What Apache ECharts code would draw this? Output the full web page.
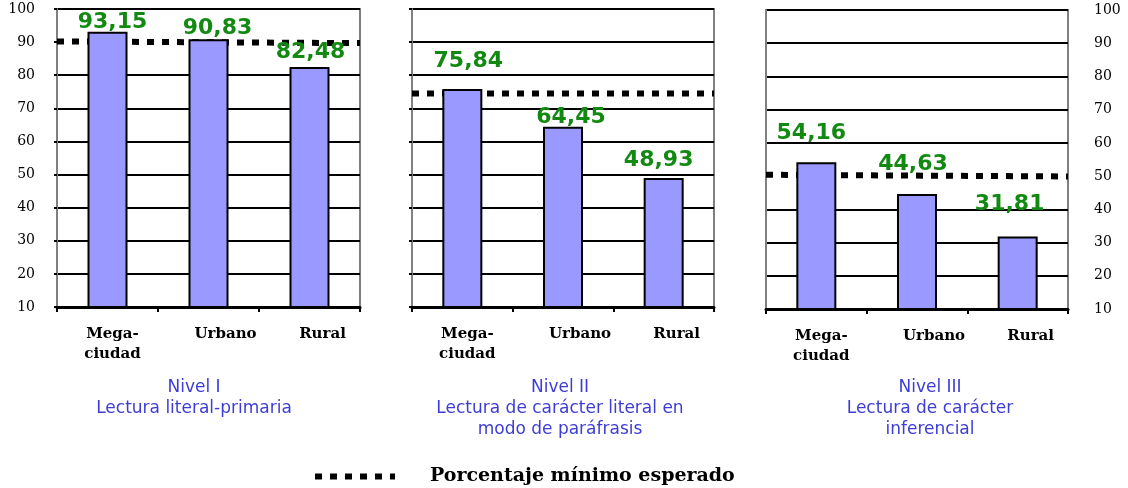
<!DOCTYPE html>
<html>
<head>
<meta charset="utf-8">
<script src="https://cdn.jsdelivr.net/npm/echarts@6/dist/echarts.min.js"></script>
<style>
  html, body { margin: 0; padding: 0; background: #fff; }
  #chart { width: 1128px; height: 488px; }
</style>
</head>
<body>
<div id="chart"></div>
<script>
// data
const categories = ['Mega-\nciudad', 'Urbano', 'Rural'];
const nivel1 = [93.15, 90.83, 82.48];
const nivel2 = [75.84, 64.45, 48.93];
const nivel3 = [54.16, 44.63, 31.81];
// "Porcentaje mínimo esperado" line, value at left / right end of each panel
const minimo1 = [90.2, 89.7];
const minimo2 = [74.5, 74.5];
const minimo3 = [50.4, 49.9];
const yTicks = [10, 20, 30, 40, 50, 60, 70, 80, 90, 100];
const panelTitles = [
    'Nivel I\nLectura literal-primaria',
    'Nivel II\nLectura de carácter literal en\nmodo de paráfrasis',
    'Nivel III\nLectura de carácter\ninferencial'
];
const legendName = 'Porcentaje mínimo esperado';

// layout / style tweaks (not data)
const grids = [
    { left: 57, top: 9, width: 303, height: 298 },
    { left: 412, top: 9, width: 302, height: 298 },
    { left: 766, top: 10, width: 302, height: 299 }
];
const titleCenters = [194, 560, 930];
const catShift = [5, 17, 13];
const labelShift = [
    [[5, 2], [9, 0], [1, -4]],
    [[6, -17], [8, 2], [-5, -7]],
    [[-5, -18], [-4, -19], [-8, -21]]
];
// gridline hidden under the dotted line (index into yTicks)
const hiddenGrid = [8, -1, 4];
const dotStyle = { color: '#000', width: 6, type: [7, 8], cap: 'butt' };

const chart = echarts.init(document.getElementById('chart'));

const bars = [nivel1, nivel2, nivel3];
const minimos = [minimo1, minimo2, minimo3];

let xAxis = [], yAxis = [], series = [];

grids.forEach((g, i) => {
    const rich = {};
    catShift.forEach((s, k) => {
        rich['c' + k] = {
            padding: [0, 0, 0, s * 2],
            fontFamily: 'DejaVu Serif', fontWeight: 'bold', fontSize: 15, lineHeight: 20, color: '#000'
        };
    });
    xAxis.push({
        type: 'category',
        gridIndex: i,
        data: categories,
        axisLine: { lineStyle: { color: '#000', width: 3 } },
        axisTick: { show: true, interval: 0, length: 5, lineStyle: { color: '#000', width: 2 } },
        axisLabel: {
            interval: 0,
            margin: 17,
            formatter: function (v, idx) {
                return v.split('\n').map(s => '{c' + idx + '|' + s + '}').join('\n');
            },
            rich: rich
        }
    });
    // hidden axis so the minimum line runs edge to edge
    xAxis.push({
        type: 'value', gridIndex: i, min: 0, max: 1, show: false
    });
    yAxis.push({
        type: 'value',
        gridIndex: i,
        min: yTicks[0],
        max: yTicks[yTicks.length - 1],
        interval: 10,
        position: i === 2 ? 'right' : 'left',
        axisLine: { show: true, lineStyle: { color: '#808080', width: 2 } },
        axisTick: { show: i !== 2, length: 3, lineStyle: { color: '#000', width: 2 } },
        axisLabel: {
            show: i !== 1,
            margin: i === 2 ? 26 : 22,
            fontFamily: 'DejaVu Serif',
            fontSize: 14,
            color: '#000'
        },
        splitLine: {
            show: true,
            lineStyle: {
                color: yTicks.map((t, k) => k === hiddenGrid[i] ? 'rgba(0,0,0,0)' : '#000'),
                width: 2
            }
        }
    });

    series.push({
        type: 'line',
        name: legendName,
        xAxisIndex: i * 2 + 1,
        yAxisIndex: i,
        z: 1,
        symbol: 'none',
        silent: true,
        lineStyle: dotStyle,
        data: [[0, minimos[i][0]], [1, minimos[i][1]]]
    });
    series.push({
        type: 'bar',
        xAxisIndex: i * 2,
        yAxisIndex: i,
        z: 3,
        barWidth: 40,
        itemStyle: { color: '#9999ff', borderColor: '#000', borderWidth: 2 },
        label: {
            show: true,
            position: 'top',
            distance: 0,
            fontFamily: 'DejaVu Sans',
            fontWeight: 'bold',
            fontSize: 22,
            color: '#128a12',
            formatter: p => p.value.toFixed(2).replace('.', ',')
        },
        data: bars[i].map((v, k) => ({ value: v, label: { offset: labelShift[i][k] } }))
    });
});

const option = {
    animation: false,
    backgroundColor: '#fff',
    title: panelTitles.map((t, i) => ({
        text: t,
        left: titleCenters[i],
        top: 377,
        textAlign: 'center',
        padding: 0,
        textStyle: {
            fontFamily: 'DejaVu Sans',
            fontWeight: 'normal',
            fontSize: 17,
            lineHeight: 21,
            color: '#3d3dd6'
        }
    })),
    legend: {
        data: [legendName],
        left: 312,
        top: 467,
        padding: 0,
        itemWidth: 80,
        itemHeight: 14,
        itemStyle: { opacity: 0 },
        lineStyle: dotStyle,
        textStyle: {
            fontFamily: 'DejaVu Serif',
            fontWeight: 'bold',
            fontSize: 19,
            color: '#000',
            padding: [0, 0, 0, 30]
        }
    },
    grid: grids.map(g => Object.assign({ show: true, borderColor: '#808080', borderWidth: 2, containLabel: false }, g)),
    xAxis: xAxis,
    yAxis: yAxis,
    series: series
};

chart.setOption(option);
</script>
</body>
</html>
